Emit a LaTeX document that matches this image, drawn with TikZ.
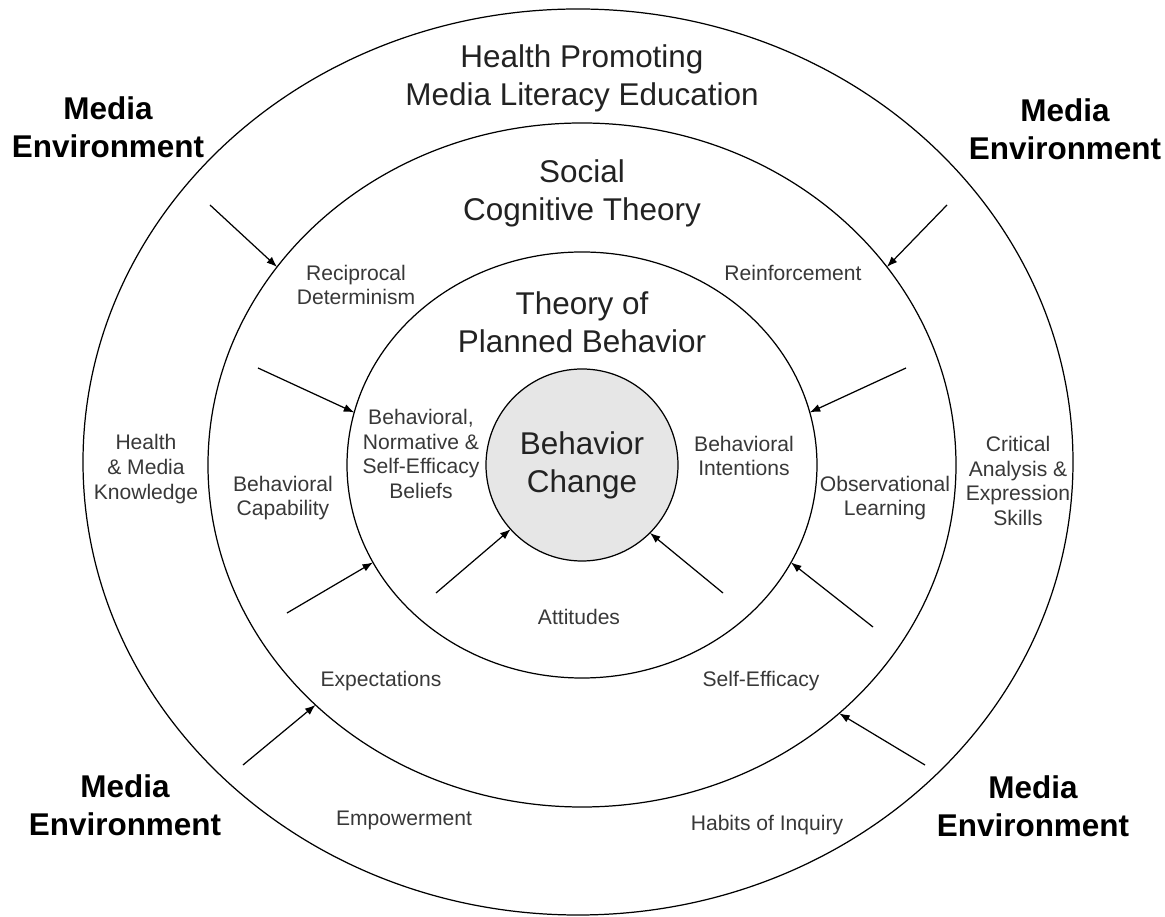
\documentclass[tikz,border=0pt]{standalone}
\usepackage{fontspec}
\setmainfont{Liberation Sans}
\usetikzlibrary{shapes.geometric,arrows.meta}
\definecolor{txtgray}{HTML}{383838}
\definecolor{headgray}{HTML}{222222}
\definecolor{corefill}{HTML}{E6E6E6}
\tikzset{
	ring/.style={draw,ellipse,inner sep=0pt,outer sep=0pt,line width=0.7pt},
	lbl/.style={align=center,text=txtgray,font=\fontsize{12}{14}\selectfont},
	head/.style={align=center,text=headgray,font=\fontsize{17.9}{21.5}\selectfont},
	menv/.style={align=center,font=\fontsize{17.9}{21.5}\selectfont\bfseries},
	infl/.style={-{Latex[length=6pt,width=4.5pt]},line width=0.7pt}
}
\begin{document}
\begin{tikzpicture}
	\useasboundingbox (-11.64,-9.04) rectangle (11.66,9.3);
	% the rings
	\node[ring,minimum width=19.8cm,minimum height=18.12cm] (outer) at (-0.08,0.06) {};
	\node[ring,minimum width=14.96cm,minimum height=13.68cm] (mid) at (0,0) {};
	\node[ring,minimum width=9.4cm,minimum height=8.52cm] (inner) at (0,0) {};
	\node[ring,circle,fill=corefill,minimum size=3.84cm,head] (core) at (0,0) {Behavior\\Change};
	% ring titles
	\foreach \x/\y/\nm/\texn in {0/7.74/hpmle/Health Promoting\\Media Literacy Education,
		0/5.43/sct/Social\\Cognitive Theory,
		0/2.85/tpb/Theory of\\Planned Behavior}
	\path (\x,\y) node[head] (\nm) {\texn};
	% media environment corners
	\foreach \x/\y/\nm in {-9.48/6.76/envtl, 9.66/6.72/envtr,
		-9.14/-6.8/envbl, 9.02/-6.82/envbr}
	\path (\x,\y) node[menv] (\nm) {Media\\Environment};
	% constructs
	\foreach \x/\y/\nm/\texn in {-4.52/3.6/recip/Reciprocal\\Determinism,
		4.22/3.84/reinf/Reinforcement,
		-3.22/0.22/beliefs/{Behavioral,\\Normative \&\\Self-Efficacy\\Beliefs},
		3.24/0.18/intent/Behavioral\\Intentions,
		-8.72/-0.08/hmk/Health\\\& Media\\Knowledge,
		-5.98/-0.66/capab/Behavioral\\Capability,
		6.06/-0.66/observ/Observational\\Learning,
		8.72/-0.32/critic/Critical\\Analysis \&\\Expression\\Skills,
		-0.06/-3.04/attit/Attitudes,
		-4.02/-4.32/expect/Expectations,
		3.58/-4.32/selfeff/Self-Efficacy,
		-3.56/-7.1/empow/Empowerment,
		3.7/-7.2/habits/Habits of Inquiry}
	\path (\x,\y) node[lbl] (\nm) {\texn};
	% influence arrows
	\foreach \nm/\px/\py/\tgt in {a1/-7.44/5.2/mid.147, a2/7.3/5.2/mid.33,
		a3/-6.48/1.94/inner.167, a4/6.48/1.94/inner.13,
		a5/-5.9/-2.96/inner.205, a6/5.82/-3.24/inner.335,
		a7/-2.92/-2.56/core.222, a8/2.82/-2.56/core.315,
		a9/-6.78/-6.0/mid.222, a10/6.86/-6.0/mid.316}
	{\coordinate (\nm) at (\px,\py);
		\draw[infl] (\nm) -- (\tgt);}
\end{tikzpicture}
\end{document}
